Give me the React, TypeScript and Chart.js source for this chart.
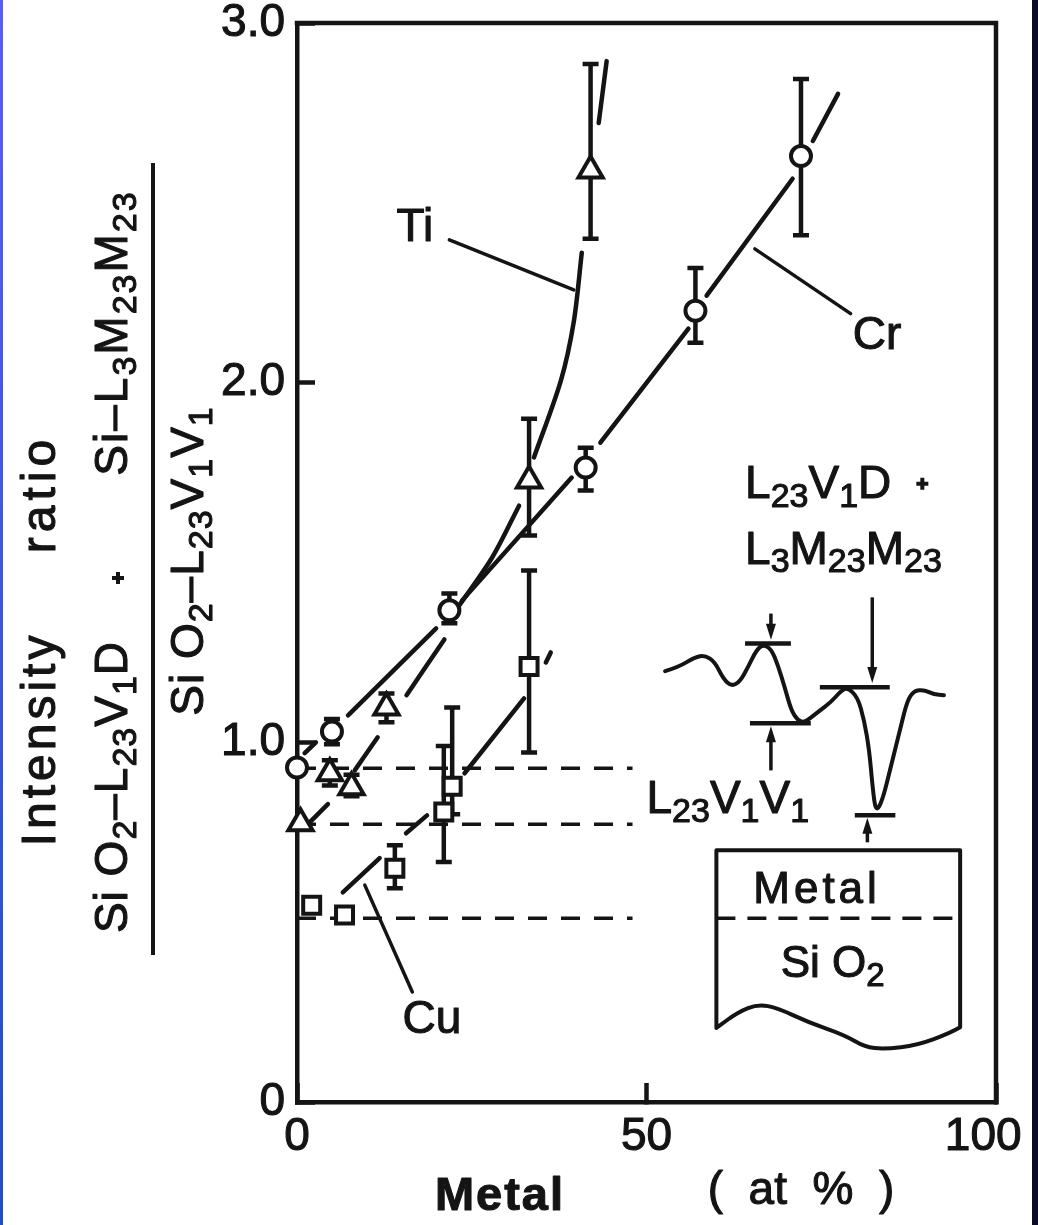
import { useEffect, useRef } from 'react';
import { Chart, registerables } from 'chart.js';

Chart.register(...registerables);

const FONT = '"Liberation Sans", Arial, Helvetica, sans-serif';
const INK = '#141414';
const TEXT_STROKE = 1.1;

// ---- axes ----
const X_TICKS = [0, 50, 100];
const X_TICK_LABELS = ['0', '50', '100  '];
const Y_TICKS = [0, 1, 2, 3];
const Y_TICK_LABELS = ['0', '1.0', '2.0', '3.0'];

// ---- Cr (circles) ----
const CR_X = [0, 5.0, 21.8, 41.3, 57.0, 72.1];
const CR_Y = [0.93, 1.03, 1.367, 1.764, 2.2, 2.63];
const CR_HI = [null, 1.065, 1.414, 1.819, 2.319, 2.844];
const CR_LO = [null, 0.995, 1.331, 1.70, 2.111, 2.41];

// ---- Ti (triangles) ----
const TI_X = [0.5, 4.7, 7.8, 12.8, 33.2, 42.0];
const TI_Y = [0.775, 0.914, 0.875, 1.097, 1.728, 2.59];
const TI_HI = [null, 0.95, 0.91, 1.136, 1.90, 2.886];
const TI_LO = [null, 0.88, 0.85, 1.056, 1.575, 2.40];

// ---- Cu (squares) ----
const CU_X = [2.1, 6.8, 14.0, 21.0, 22.2, 33.2];
const CU_Y = [0.547, 0.52, 0.65, 0.806, 0.878, 1.211];
const CU_HI = [null, null, 0.714, 0.99, 1.097, 1.478];
const CU_LO = [null, null, 0.594, 0.667, 0.80, 0.972];

// ---- hand-drawn guide curves (null = break) ----
const CR_CURVE_X = [1.1, 2.7, null, 7.3, 19.9, null, 23.6, 39.3, null, 43.4, 56.0, null, 58.6, 70.9, null, 73.8, 77.4];
const CR_CURVE_Y = [0.97, 1.0, null, 1.075, 1.317, null, 1.394, 1.736, null, 1.833, 2.15, null, 2.242, 2.567, null, 2.672, 2.803];
const TI_CURVE_X = [1.85, 4.42, null, 8.26, 11.54, null, 15.67, 21.08, null, 22.9, 27.92, 31.77, null, 33.9, 37.75, 39.6, 40.74, null, 43.16, 44.3];
const TI_CURVE_Y = [0.778, 0.828, null, 0.922, 1.014, null, 1.131, 1.286, null, 1.372, 1.514, 1.658, null, 1.792, 2.006, 2.17, 2.361, null, 2.722, 2.894];
const CU_CURVE_X = [6.55, 11.82, null, 15.6, 18.6, null, 23.97, 32.48, null, 35.6, 36.3];
const CU_CURVE_Y = [0.583, 0.678, null, 0.747, 0.797, null, 0.914, 1.122, null, 1.222, 1.25];

// ---- dashed reference levels ----
const REF_X = [0, 48];
const REF_LEVELS = [0.928, 0.772, 0.511];

// ---- text ----
const Y_TITLE_WORDS = ['Intensity', 'ratio'];
const Y_NUMERATOR = ['Si O_2–L_23V_1D', '+', 'Si–L_3M_23M_23'];
const Y_DENOMINATOR = 'Si O_2–L_23V_1V_1';
const X_TITLE = ['Metal', '(  at  %  )'];
const SERIES_LABELS = ['Ti', 'Cr', 'Cu'];
const INSET_TEXT = ['L_23V_1D', '+', 'L_3M_23M_23', 'L_23V_1V_1', 'Metal', 'Si O_2'];

// ---- annotation geometry (in data units) ----
const LABEL_POS = [[14.25, 2.394], [79.5, 2.094], [15.1, 0.192]];
const LEADERS = [[21.8, 2.397, 39.6, 2.258], [65.5, 2.372, 79.2, 2.192], [9.7, 0.603, 16.5, 0.306]];
const INSET_SPECTRUM = [[52.66, 1.198], [54.56, 1.209], [56.94, 1.237], [58.36, 1.242], [59.79, 1.223], [60.97, 1.177], [62.15, 1.156], [63.35, 1.168], [64.53, 1.209], [65.71, 1.256], [66.67, 1.272], [67.85, 1.260], [68.80, 1.214], [69.76, 1.154], [70.70, 1.089], [71.65, 1.061], [72.61, 1.055], [74.50, 1.084], [76.40, 1.112], [77.82, 1.143], [78.77, 1.152], [80.20, 1.126], [81.15, 1.061], [81.87, 0.978], [82.34, 0.876], [82.81, 0.805], [83.76, 0.839], [84.94, 0.931], [86.37, 1.043], [87.32, 1.117], [88.28, 1.143], [89.70, 1.146], [91.13, 1.133], [92.55, 1.131]];
const INSET_MARKS = [[64.1, 70.66, 1.275], [64.8, 73.5, 1.053], [74.8, 84.8, 1.153], [79.8, 85.6, 0.797]];
const INSET_ARROWS = [[67.8, 1.358, 1.285], [67.8, 0.922, 1.045], [82.3, 1.403, 1.165], [81.6, 0.722, 0.79]];
const INSET_BOX = { left: 60.0, right: 94.87, top: 0.70, dashY: 0.511 };
const INSET_WAVE = [[94.87, 0.208], [93.45, 0.192], [88.75, 0.158], [84.05, 0.147], [81.2, 0.153], [78.35, 0.186], [73.08, 0.222], [68.8, 0.261], [65.95, 0.272], [63.1, 0.25], [60.0, 0.206]];
const INSET_TEXT_POS = [[64.1, 1.678], [89.46, 1.719], [64.1, 1.497], [50.0, 0.803], [74.4, 0.553], [69.2, 0.347]];

function toPoints(xs: any[], ys: any[]) {
  return xs.map((x, i) => ({ x: x ?? xs[i - 1], y: ys[i] }));
}

function parseRuns(s: string) {
  const runs: { t: string; sub: boolean }[] = [];
  const re = /_(\d+)/g;
  let last = 0;
  let m: any;
  while ((m = re.exec(s))) {
    if (m.index > last) runs.push({ t: s.slice(last, m.index), sub: false });
    runs.push({ t: m[1], sub: true });
    last = m.index + m[0].length;
  }
  if (last < s.length) runs.push({ t: s.slice(last), sub: false });
  return runs;
}

function drawRuns(ctx: any, s: string, x: number, y: number, size: number, opts: any = {}) {
  const runs = parseRuns(s);
  const subSize = Math.round(size * 0.74);
  const main = `${opts.bold ? 'bold ' : ''}${size}px ${FONT}`;
  const sub = `${subSize}px ${FONT}`;
  ctx.letterSpacing = `${opts.spacing || 0}px`;
  const widths = runs.map((r) => {
    ctx.font = r.sub ? sub : main;
    return ctx.measureText(r.t).width;
  });
  const total = widths.reduce((a, b) => a + b, 0);
  let cx = opts.align === 'center' ? x - total / 2 : x;
  ctx.textAlign = 'left';
  ctx.textBaseline = 'alphabetic';
  ctx.fillStyle = INK;
  ctx.strokeStyle = INK;
  ctx.lineWidth = TEXT_STROKE;
  ctx.lineJoin = 'round';
  ctx.setLineDash([]);
  runs.forEach((r, i) => {
    ctx.font = r.sub ? sub : main;
    const yy = y + (r.sub ? size * 0.19 : 0);
    ctx.fillText(r.t, cx, yy);
    ctx.strokeText(r.t, cx, yy);
    cx += widths[i];
  });
  ctx.letterSpacing = '0px';
}

function drawRotated(ctx: any, s: string, xBase: number, yCenter: number, size: number, spacing = 0) {
  ctx.save();
  ctx.translate(xBase, yCenter);
  ctx.rotate(-Math.PI / 2);
  drawRuns(ctx, s, 0, 0, size, { align: 'center', spacing });
  ctx.restore();
}

function drawPlus(ctx: any, x: number, y: number) {
  ctx.save();
  ctx.strokeStyle = INK;
  ctx.lineWidth = 4;
  ctx.lineCap = 'butt';
  ctx.beginPath();
  ctx.moveTo(x - 6, y);
  ctx.lineTo(x + 6, y);
  ctx.moveTo(x, y - 6);
  ctx.lineTo(x, y + 6);
  ctx.stroke();
  ctx.restore();
}

const bgPlugin = {
  id: 'bg',
  beforeDraw(chart: any) {
    const { ctx, width, height } = chart;
    ctx.save();
    ctx.fillStyle = '#ffffff';
    ctx.fillRect(0, 0, width, height);
    ctx.restore();
  },
};

const errorBarPlugin = {
  id: 'errorBars',
  beforeDatasetsDraw(chart: any) {
    const { ctx, scales } = chart;
    const xs = scales.x, ys = scales.y;
    ctx.save();
    ctx.strokeStyle = INK;
    ctx.lineWidth = 4.5;
    ctx.lineCap = 'butt';
    const groups = [[CR_X, CR_HI, CR_LO], [TI_X, TI_HI, TI_LO], [CU_X, CU_HI, CU_LO]];
    for (const [X, HI, LO] of groups as any) {
      X.forEach((xv: number, i: number) => {
        if (HI[i] == null) return;
        const px = xs.getPixelForValue(xv);
        const ph = ys.getPixelForValue(HI[i]);
        const pl = ys.getPixelForValue(LO[i]);
        ctx.beginPath();
        ctx.moveTo(px, ph);
        ctx.lineTo(px, pl);
        ctx.moveTo(px - 8, ph);
        ctx.lineTo(px + 8, ph);
        ctx.moveTo(px - 8, pl);
        ctx.lineTo(px + 8, pl);
        ctx.stroke();
      });
    }
    ctx.restore();
  },
};

const decorPlugin = {
  id: 'decor',
  afterDatasetsDraw(chart: any) {
    const { ctx, chartArea, scales } = chart;
    const X = (v: number) => scales.x.getPixelForValue(v);
    const Y = (v: number) => scales.y.getPixelForValue(v);
    ctx.save();
    ctx.strokeStyle = INK;
    ctx.fillStyle = INK;

    // frame top + right
    ctx.lineWidth = 4.5;
    ctx.lineCap = 'square';
    ctx.beginPath();
    ctx.moveTo(chartArea.left, chartArea.top);
    ctx.lineTo(chartArea.right, chartArea.top);
    ctx.lineTo(chartArea.right, chartArea.bottom);
    ctx.stroke();

    // leader lines + series labels
    ctx.lineWidth = 3.5;
    ctx.lineCap = 'round';
    LEADERS.forEach(([x1, y1, x2, y2]) => {
      ctx.beginPath();
      ctx.moveTo(X(x1), Y(y1));
      ctx.lineTo(X(x2), Y(y2));
      ctx.stroke();
    });
    SERIES_LABELS.forEach((t, i) => drawRuns(ctx, t, X(LABEL_POS[i][0]), Y(LABEL_POS[i][1]), 46));

    // inset spectrum
    ctx.strokeStyle = INK;
    ctx.lineWidth = 4;
    ctx.lineJoin = 'round';
    ctx.lineCap = 'round';
    ctx.beginPath();
    const pts = INSET_SPECTRUM.map(([a, b]) => [X(a), Y(b)]);
    ctx.moveTo(pts[0][0], pts[0][1]);
    for (let i = 1; i < pts.length - 1; i++) {
      const mx = (pts[i][0] + pts[i + 1][0]) / 2;
      const my = (pts[i][1] + pts[i + 1][1]) / 2;
      ctx.quadraticCurveTo(pts[i][0], pts[i][1], mx, my);
    }
    ctx.lineTo(pts[pts.length - 1][0], pts[pts.length - 1][1]);
    ctx.stroke();

    ctx.lineWidth = 4.5;
    ctx.lineCap = 'butt';
    INSET_MARKS.forEach(([a, b, y]) => {
      ctx.beginPath();
      ctx.moveTo(X(a), Y(y));
      ctx.lineTo(X(b), Y(y));
      ctx.stroke();
    });
    INSET_ARROWS.forEach(([x, y0, y1]) => {
      const px = X(x), p0 = Y(y0), p1 = Y(y1);
      const dir = p1 > p0 ? 1 : -1;
      ctx.lineWidth = 3.5;
      ctx.beginPath();
      ctx.moveTo(px, p0);
      ctx.lineTo(px, p1 - dir * 12);
      ctx.stroke();
      ctx.beginPath();
      ctx.moveTo(px, p1);
      ctx.lineTo(px - 5, p1 - dir * 16);
      ctx.lineTo(px + 5, p1 - dir * 16);
      ctx.closePath();
      ctx.fill();
    });

    // inset box
    ctx.lineWidth = 4;
    ctx.lineCap = 'round';
    ctx.beginPath();
    ctx.moveTo(X(INSET_BOX.left), Y(INSET_WAVE[INSET_WAVE.length - 1][1]));
    ctx.lineTo(X(INSET_BOX.left), Y(INSET_BOX.top));
    ctx.lineTo(X(INSET_BOX.right), Y(INSET_BOX.top));
    ctx.lineTo(X(INSET_WAVE[0][0]), Y(INSET_WAVE[0][1]));
    const w = INSET_WAVE.map(([a, b]) => [X(a), Y(b)]);
    for (let i = 1; i < w.length - 1; i++) {
      const mx = (w[i][0] + w[i + 1][0]) / 2;
      const my = (w[i][1] + w[i + 1][1]) / 2;
      ctx.quadraticCurveTo(w[i][0], w[i][1], mx, my);
    }
    ctx.lineTo(w[w.length - 1][0], w[w.length - 1][1]);
    ctx.stroke();
    ctx.lineWidth = 3.5;
    ctx.lineCap = 'butt';
    ctx.setLineDash([19, 12]);
    ctx.beginPath();
    ctx.moveTo(X(INSET_BOX.left), Y(INSET_BOX.dashY));
    ctx.lineTo(X(INSET_BOX.right), Y(INSET_BOX.dashY));
    ctx.stroke();
    ctx.setLineDash([]);

    // inset text
    const P = INSET_TEXT_POS;
    drawRuns(ctx, INSET_TEXT[0], X(P[0][0]), Y(P[0][1]), 46);
    drawPlus(ctx, X(P[1][0]), Y(P[1][1]));
    drawRuns(ctx, INSET_TEXT[2], X(P[2][0]), Y(P[2][1]), 46);
    drawRuns(ctx, INSET_TEXT[3], X(P[3][0]), Y(P[3][1]), 46);
    drawRuns(ctx, INSET_TEXT[4], X(P[4][0]), Y(P[4][1]), 44, { align: 'center', spacing: 4 });
    drawRuns(ctx, INSET_TEXT[5], X(P[5][0]), Y(P[5][1]), 44);
    ctx.restore();
  },
  afterDraw(chart: any) {
    const { ctx } = chart;
    ctx.save();
    // y-axis title: Intensity ratio = fraction
    drawRotated(ctx, Y_TITLE_WORDS[0], 55, 739, 48, 4);
    drawRotated(ctx, Y_TITLE_WORDS[1], 55, 494, 48, 5);
    drawRotated(ctx, Y_NUMERATOR[0], 127, 787, 46, 1);
    drawPlus(ctx, 118, 578);
    drawRotated(ctx, Y_NUMERATOR[2], 127, 333, 46, 2);
    ctx.strokeStyle = INK;
    ctx.lineWidth = 4;
    ctx.lineCap = 'butt';
    ctx.beginPath();
    ctx.moveTo(153, 163);
    ctx.lineTo(153, 955);
    ctx.stroke();
    drawRotated(ctx, Y_DENOMINATOR, 203, 561, 46, 1);
    // x-axis title
    drawRuns(ctx, X_TITLE[0], 500, 1210, 47, { align: 'center', bold: true, spacing: 2 });
    drawRuns(ctx, X_TITLE[1], 801, 1204, 46, { align: 'center' });
    ctx.restore();
  },
};

function makeConfig(): any {
  const markerBase = { showLine: false, pointBorderColor: INK, pointBackgroundColor: '#ffffff', pointBorderWidth: 4, clip: false };
  const curveBase = { showLine: true, pointRadius: 0, borderColor: INK, borderWidth: 4.5, borderCapStyle: 'round', borderJoinStyle: 'round', spanGaps: false, clip: false };
  const tickFont = { family: FONT, size: 46, lineHeight: 1 };
  return {
    type: 'line',
    data: {
      datasets: [
        { ...markerBase, label: 'Cr', data: toPoints(CR_X, CR_Y), pointStyle: 'circle', pointRadius: 10 },
        { ...markerBase, label: 'Ti', data: toPoints(TI_X, TI_Y), pointStyle: 'triangle', pointRadius: 14 },
        { ...markerBase, label: 'Cu', data: toPoints(CU_X, CU_Y), pointStyle: 'rect', pointRadius: 12 },
        { ...curveBase, label: 'Cr curve', data: toPoints(CR_CURVE_X, CR_CURVE_Y) },
        { ...curveBase, label: 'Ti curve', data: toPoints(TI_CURVE_X, TI_CURVE_Y), tension: 0.3 },
        { ...curveBase, label: 'Cu curve', data: toPoints(CU_CURVE_X, CU_CURVE_Y) },
        ...REF_LEVELS.map((lv, i) => ({
          ...curveBase,
          label: `ref ${i}`,
          borderWidth: 3.5,
          borderCapStyle: 'butt',
          borderDash: [19, 14],
          data: REF_X.map((x) => ({ x, y: lv })),
        })),
      ],
    },
    options: {
      animation: false,
      responsive: false,
      devicePixelRatio: 1,
      events: [],
      layout: { padding: { left: 0, right: 42, top: 23, bottom: 0 } },
      plugins: { legend: { display: false }, tooltip: { enabled: false } },
      scales: {
        x: {
          type: 'linear',
          min: 0,
          max: 100,
          afterBuildTicks: (s: any) => { s.ticks = X_TICKS.map((v) => ({ value: v })); },
          afterFit: (s: any) => { s.height = 123; s.paddingLeft = 0; s.paddingRight = 0; },
          grid: { drawOnChartArea: false, drawTicks: true, tickLength: -19, tickWidth: 4.5, tickColor: INK },
          border: { display: true, width: 4.5, color: INK },
          ticks: {
            padding: 31,
            color: INK,
            maxRotation: 0,
            autoSkip: false,
            font: tickFont,
            textStrokeColor: INK,
            textStrokeWidth: TEXT_STROKE,
            callback: (v: number) => X_TICK_LABELS[X_TICKS.indexOf(v)] ?? '',
          },
        },
        y: {
          type: 'linear',
          min: 0,
          max: 3,
          afterBuildTicks: (s: any) => { s.ticks = Y_TICKS.map((v) => ({ value: v })); },
          afterFit: (s: any) => { s.width = 297; s.paddingTop = 0; s.paddingBottom = 0; },
          grid: { drawOnChartArea: false, drawTicks: true, tickLength: -18, tickWidth: 4.5, tickColor: INK },
          border: { display: true, width: 4.5, color: INK },
          ticks: {
            padding: 30,
            color: INK,
            autoSkip: false,
            font: tickFont,
            textStrokeColor: INK,
            textStrokeWidth: TEXT_STROKE,
            callback: (v: number) => Y_TICK_LABELS[Y_TICKS.indexOf(v)] ?? '',
          },
        },
      },
    },
    plugins: [bgPlugin, errorBarPlugin, decorPlugin],
  };
}

export default function App() {
  const ref = useRef<HTMLCanvasElement>(null);
  useEffect(() => {
    const chart = new Chart(ref.current as HTMLCanvasElement, makeConfig());
    return () => chart.destroy();
  }, []);
  return (
    <div style={{ position: 'fixed', left: 0, top: 0, width: 1038, height: 1225, background: '#ffffff', overflow: 'hidden' }}>
      <canvas ref={ref} width={1038} height={1225} style={{ display: 'block', width: 1038, height: 1225 }} />
      <div style={{ position: 'absolute', left: 0, top: 0, width: 3, height: 1225, background: 'linear-gradient(#5b5cf4, #1f4fc0)' }} />
      <div style={{ position: 'absolute', right: 0, top: 0, width: 6, height: 1225, background: '#0b0b26' }} />
    </div>
  );
}
